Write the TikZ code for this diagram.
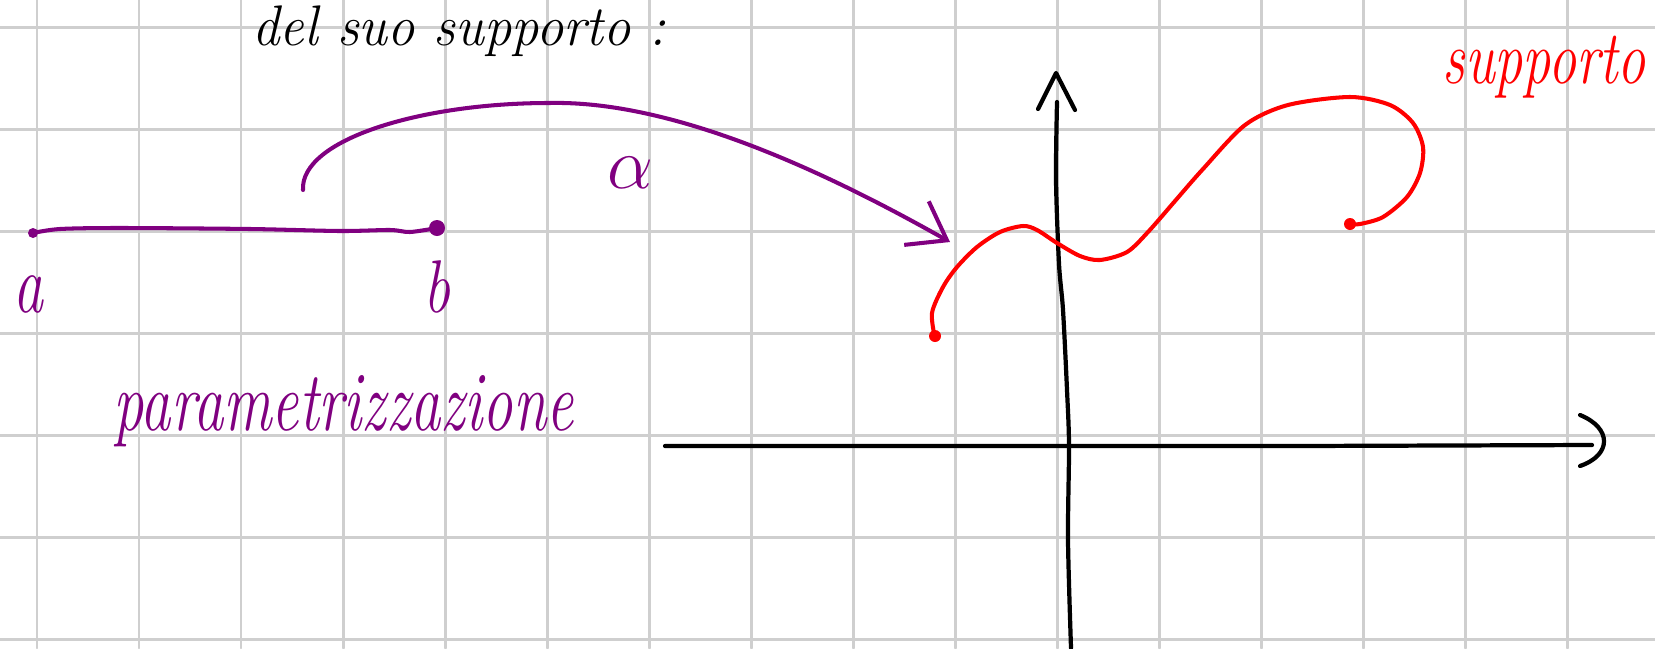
\documentclass[tikz,border=0pt]{standalone}
\usepackage{tikz}
\usetikzlibrary{arrows.meta}
\definecolor{viola}{HTML}{800080}
\definecolor{rosso}{HTML}{FF0000}
\definecolor{griglia}{HTML}{CFCFCF}
\newcommand{\manu}[2]{\scalebox{1}[#1]{\itshape #2}}

\begin{document}
\begin{tikzpicture}[
    x=0.01cm, y=-0.01cm,
    line cap=round, line join=round,
    quad/.style={griglia, line width=0.85pt},
    penna/.style={viola, line width=1.15pt},
    asse/.style={black, line width=1.2pt},
    curva/.style={rosso, line width=1.15pt},
    scritta/.style={inner sep=0pt, anchor=base west}
  ]
  \useasboundingbox (0,0) rectangle (1655,648);
  \fill[white] (0,0) rectangle (1655,648);
  % quadretti
  \foreach \i in {0,...,15} \draw[quad] (37+102*\i,0) -- (37+102*\i,648);
  \foreach \j in {0,...,6} \draw[quad] (0,27.5+102*\j) -- (1655,27.5+102*\j);
  % titolo
  \node[scritta, font=\fontsize{15.5}{18}\selectfont] (titolo) at (252,45)
    {\manu{1.05}{del suo supporto :}};
  % intervallo [a,b]
  \coordinate (a) at (33,233);
  \coordinate (b) at (437,228);
  \draw[penna] plot[smooth] coordinates {(33,233) (60,229) (120,228) (250,229)
    (340,231) (390,230) (410,232) (437,228)};
  \fill[viola] (a) circle (5);
  \fill[viola] (b) circle (8);
  \node[scritta, viola, font=\fontsize{17}{20}\selectfont] (la) at (13,312) {\manu{1.4}{a}};
  \node[scritta, viola, font=\fontsize{17}{20}\selectfont] (lb) at (423,312) {\manu{1.25}{b}};
  \node[scritta, viola, font=\fontsize{17.2}{20}\selectfont] (param) at (113,430)
    {\manu{1.4}{parametrizzazione}};
  % freccia alpha
  \coordinate (ainizio) at (303,190);
  \coordinate (afine) at (950,242);
  \draw[penna, -{Straight Barb[length=3.5mm,width=5mm]}] (ainizio)
    .. controls (300,140) and (420,103) .. (549,103)
    .. controls (680,100) and (840,180) .. (afine);
  \node[viola, font=\fontsize{21}{24}\selectfont] (alfa) at (630,173) {$\alpha$};
  % assi
  \coordinate (xsx) at (665,446);
  \coordinate (xdx) at (1592,445);
  \coordinate (ygiu) at (1071,648);
  \coordinate (ysu) at (1057,102);
  \draw[asse] (xsx) -- (900,446) -- (1300,446) -- (xdx);
  \draw[asse] (1580,415) .. controls (1612,428) and (1612,455) .. (1580,466);
  \draw[asse] plot[smooth] coordinates {(1071,648) (1068,540) (1069,446) (1067,390)
    (1063,310) (1059,264) (1056,180) (1057,102)};
  \draw[asse] (1038,109) -- (1056,73) -- (1075,110);
  % supporto
  \draw[curva] plot[smooth] coordinates {(935,338) (932,313) (943,287) (957,267)
    (977,247) (1000,232) (1023,226) (1037,230) (1057,243) (1080,256) (1100,260)
    (1127,252) (1148,232) (1175,201) (1203,169) (1245,125) (1288,105) (1350,97)
    (1390,105) (1413,123) (1423,147) (1420,173) (1407,197) (1383,217) (1360,224)
    (1350,224)};
  \fill[rosso] (935,336) circle (6);
  \fill[rosso] (1350,224) circle (6);
  \node[scritta, rosso, font=\fontsize{16}{19}\selectfont] (supp) at (1442,83)
    {\manu{1.35}{supporto}};
\end{tikzpicture}
\end{document}
